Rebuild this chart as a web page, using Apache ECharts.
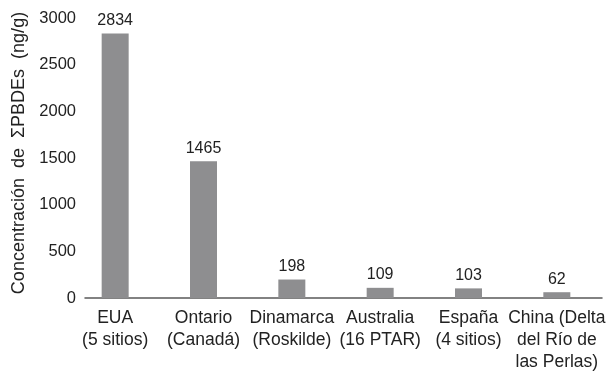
<!DOCTYPE html>
<html lang="es">
<head>
<meta charset="UTF-8">
<title>PBDEs</title>
<style>
  * { margin: 0; padding: 0; }
  #chart { width: 614px; height: 371px; background: #fff; }
</style>
</head>
<body>
<div id="chart"></div>
<script src="https://cdn.jsdelivr.net/npm/echarts@6/dist/echarts.min.js"></script>
<script>
var categories = ['EUA\n(5 sitios)', 'Ontario\n(Canadá)', 'Dinamarca\n(Roskilde)', 'Australia\n(16 PTAR)', 'España\n(4 sitios)', 'China (Delta\ndel Río de\nlas Perlas)'];
var values = [2834, 1465, 198, 109, 103, 62];
var yTicks = [0, 500, 1000, 1500, 2000, 2500, 3000];

var font = 'Liberation Sans, Arial, sans-serif';
var chart = echarts.init(document.getElementById('chart'));

chart.setOption({
  animation: false,
  textStyle: { fontFamily: font },
  grid: [
    // bars
    { left: 71, right: 13, top: 18, bottom: 73, outerBoundsMode: 'none' },
    // axis line + y labels
    { left: 85, right: 12, top: 18, bottom: 73, outerBoundsMode: 'none' }
  ],
  xAxis: [
    {
      type: 'category', gridIndex: 0, data: categories,
      axisLine: { show: false }, axisTick: { show: false },
      axisLabel: { color: '#222', fontSize: 17.5, lineHeight: 22, margin: 9, interval: 0, fontFamily: font }
    },
    {
      type: 'category', gridIndex: 1, data: [''],
      axisLine: { lineStyle: { color: '#595959', width: 1.5 } },
      axisTick: { show: false }, axisLabel: { show: false }
    }
  ],
  yAxis: [
    { type: 'value', gridIndex: 0, min: 0, max: 3000, interval: 500, show: false },
    {
      type: 'value', gridIndex: 1, min: 0, max: 3000, interval: 500,
      axisLine: { show: false }, axisTick: { show: false }, splitLine: { show: false },
      axisLabel: {
        color: '#222', fontSize: 16.5, margin: 9, fontFamily: font,
        customValues: yTicks,
        formatter: function (v) { return String(v); }
      },
      name: 'Concentración  de  ΣPBDEs  (ng/g)',
      nameLocation: 'middle', nameGap: 56,
      nameTextStyle: { color: '#222', fontSize: 18, fontFamily: font, padding: [0, 0, 0, 10] }
    }
  ],
  series: [{
    type: 'bar', xAxisIndex: 0, yAxisIndex: 0,
    data: values, barWidth: 27,
    itemStyle: { color: '#8e8e90' },
    label: { show: true, position: 'top', distance: 5, color: '#222', fontSize: 16, fontFamily: font }
  }]
});
</script>
</body>
</html>
